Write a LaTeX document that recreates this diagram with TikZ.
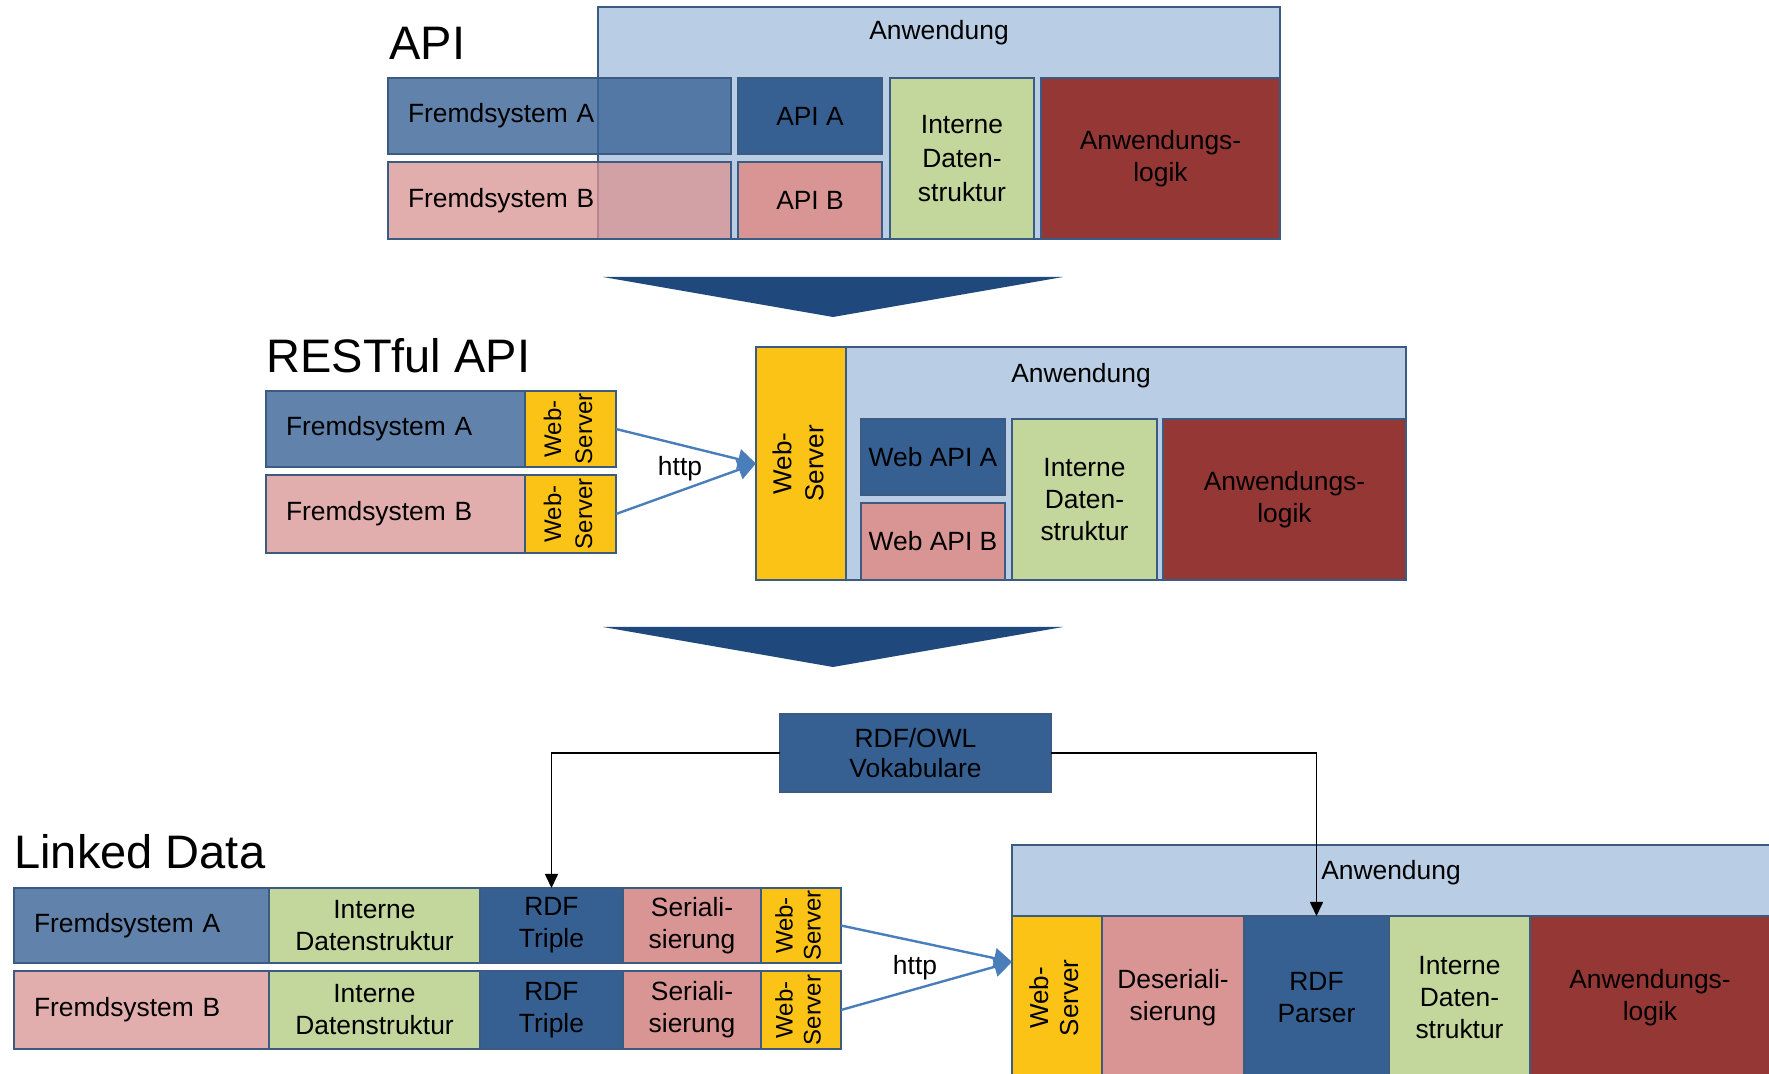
\documentclass[tikz,border=0pt]{standalone}
\usepackage{fontspec}
\setmainfont{Liberation Sans}
\usetikzlibrary{arrows.meta,calc}
\definecolor{bord}{HTML}{3B5B82}
\definecolor{lblue}{HTML}{B9CDE5}
\definecolor{dblue}{HTML}{366092}
\definecolor{fsa}{HTML}{3D6698}
\definecolor{pinkc}{HTML}{D99594}
\definecolor{greenc}{HTML}{C3D69B}
\definecolor{redc}{HTML}{953735}
\definecolor{yellowc}{HTML}{FAC315}
\definecolor{arrowblue}{HTML}{1F497D}
\definecolor{httpblue}{HTML}{4A7EBB}
\tikzset{
  box/.style={draw=bord, line width=0.9pt, inner sep=0pt, outer sep=0pt, align=center,
    font=\fontsize{13.2}{16}\selectfont},
  fsAfill/.style={fill=fsa, fill opacity=0.82, text opacity=1},
  fsBfill/.style={fill=pinkc, fill opacity=0.77, text opacity=1},
  appfill/.style={fill=lblue},
  dbfill/.style={fill=dblue},
  pkfill/.style={fill=pinkc},
  grfill/.style={fill=greenc},
  rdfill/.style={fill=redc},
  ylfill/.style={fill=yellowc},
  plain/.style={inner sep=0pt, font=\fontsize{13.2}{16}\selectfont},
  title/.style={inner sep=0pt, anchor=base west, font=\fontsize{23.5}{28}\selectfont},
  httpline/.style={draw=httpblue, line width=1.2pt, -{Triangle[length=9pt,width=10pt]}},
  rdfline/.style={draw=black, line width=0.8pt, -{Triangle[length=7pt,width=6.5pt]}},
  bigarrow/.style={fill=arrowblue},
}
\newcommand\bx[7]{\node[box,#6,minimum width={(#4-#2)*0.5pt},minimum height={(#5-#3)*0.5pt}] (#1) at ({(#2+#4)/2},{(#3+#5)/2}) {#7};}
\newcommand\fbx[7]{\pgfmathsetmacro\mytw{(#4-#2)*0.5-20}\node[box,#6,align=left,text width=\mytw pt,inner xsep=10pt,minimum height={(#5-#3)*0.5pt}] (#1) at ({(#2+#4)/2},{(#3+#5)/2}) {#7};}
\newcommand\wsv[2]{\rotatebox{90}{\fontsize{#1}{#2}\selectfont\begin{tabular}{@{}c@{}}Web-\\Server\end{tabular}}}
\begin{document}
\begin{tikzpicture}[x=0.5pt,y=-0.5pt]
\useasboundingbox (0,0) rectangle (1769,1074);
\clip (0,0) rectangle (1769,1074);
% ---------------- Section 1: API
\node[title] (t1) at (389,60) {API};
\bx{app1}{598}{7}{1280}{239}{appfill}{}
\node[plain] (app1t) at (939,33) {Anwendung};
\fbx{fsA1}{388}{78}{731}{154}{fsAfill}{Fremdsystem A}
\fbx{fsB1}{388}{162}{731}{239}{fsBfill}{Fremdsystem B}
\bx{apiA}{738}{78}{882}{154}{dbfill}{API A}
\bx{apiB}{738}{162}{882}{239}{pkfill}{API B}
\bx{int1}{890}{78}{1034}{239}{grfill,font=\fontsize{13.2}{17}\selectfont}{Interne\\Daten-\\struktur}
\bx{logic1}{1041}{78}{1280}{239}{rdfill}{Anwendungs-\\logik}
\fill[bigarrow] (603,277) -- (1063,277) -- (833,317) -- cycle;
% ---------------- Section 2: RESTful API
\node[title] (t2) at (266,373) {RESTful API};
\fbx{fsA2}{266}{391}{525}{467}{fsAfill}{Fremdsystem A}
\bx{wsA2}{525}{391}{616}{467}{ylfill}{\wsv{12}{15.5}}
\fbx{fsB2}{266}{475}{525}{553}{fsBfill}{Fremdsystem B}
\bx{wsB2}{525}{475}{616}{553}{ylfill}{\wsv{12}{15.5}}
\bx{app2}{756}{347}{1406}{580}{appfill}{}
\node[plain] (app2t) at (1081,376) {Anwendung};
\bx{ws2}{756}{347}{846}{580}{ylfill}{\wsv{13}{16}}
\bx{wapiA}{861}{419}{1005}{495}{dbfill}{Web API A}
\bx{wapiB}{861}{503}{1005}{580}{pkfill}{Web API B}
\bx{int2}{1012}{419}{1157}{580}{grfill}{Interne\\Daten-\\struktur}
\bx{logic2}{1163}{419}{1406}{580}{rdfill}{Anwendungs-\\logik}
\draw[httpline] (wsA2.east) -- (ws2.west);
\draw[httpline] (wsB2.east) -- (ws2.west);
\node[plain] (http2) at (680,469) {http};
\fill[bigarrow] (603,627) -- (1063,627) -- (833,667) -- cycle;
% ---------------- Section 3: Linked Data
\bx{rdf}{780}{714}{1051}{792}{dbfill,font=\fontsize{13.2}{15}\selectfont}{RDF/OWL\\Vokabulare}
\node[title] (t3) at (14,869) {Linked Data};
\fbx{fsA3}{14}{888}{269}{963}{fsAfill}{Fremdsystem A}
\bx{intA}{269}{888}{480}{963}{grfill}{Interne\\Datenstruktur}
\bx{tripA}{480}{888}{623}{963}{dbfill}{RDF\\Triple}
\bx{serA}{623}{888}{761}{963}{pkfill}{Seriali-\\sierung}
\bx{wsA3}{761}{888}{841}{963}{ylfill}{\wsv{12}{14}}
\fbx{fsB3}{14}{971}{269}{1049}{fsBfill}{Fremdsystem B}
\bx{intB}{269}{971}{480}{1049}{grfill}{Interne\\Datenstruktur}
\bx{tripB}{480}{971}{623}{1049}{dbfill}{RDF\\Triple}
\bx{serB}{623}{971}{761}{1049}{pkfill}{Seriali-\\sierung}
\bx{wsB3}{761}{971}{841}{1049}{ylfill}{\wsv{12}{14}}
\bx{app3}{1012}{845}{1770}{1080}{appfill}{}
\node[plain] (app3t) at (1391,873) {Anwendung};
\bx{ws3}{1012}{916}{1102}{1080}{ylfill}{\wsv{13}{15}}
\bx{deser}{1102}{916}{1244}{1080}{pkfill}{Deseriali-\\sierung}
\bx{parser}{1244}{916}{1389}{1080}{dbfill}{RDF\\Parser}
\bx{int3}{1389}{916}{1530}{1080}{grfill}{Interne\\Daten-\\struktur}
\bx{logic3}{1530}{916}{1770}{1080}{rdfill}{Anwendungs-\\logik}
\coordinate (httpin) at ($(ws3.north west)!0.28!(ws3.south west)$);
\draw[httpline] (wsA3.east) -- (httpin);
\draw[httpline] (wsB3.east) -- (httpin);
\node[plain] (http3) at (915,968) {http};
\draw[rdfline] (rdf.west) -| (tripA.north);
\draw[rdfline] (rdf.east) -| (parser.north);
\end{tikzpicture}
\end{document}
